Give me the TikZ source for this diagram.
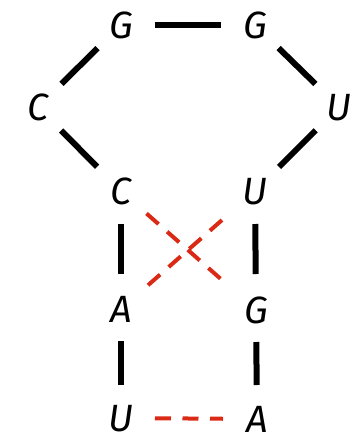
\documentclass[tikz,border=0pt]{standalone}
\usepackage{fontspec}
\setmainfont{Fira Sans}
\definecolor{pairred}{RGB}{218,42,22}
\begin{document}
\begin{tikzpicture}[x=1pt,y=-1pt,
  base/.style={inner sep=0pt,text height=26pt,text depth=0pt,font=\fontsize{38}{38}\selectfont\itshape},
  bond/.style={line width=6pt,black},
  pairing/.style={line width=4pt,pairred,dash pattern=on 16pt off 11.5pt}]
\useasboundingbox (0,0) rectangle (356,437);
\node[base] (g1) at (121,25) {G};
\node[base] (g2) at (255,25) {G};
\node[base] (c1) at (38,107) {C};
\node[base] (u1) at (339,107) {U};
\node[base] (c2) at (121,191) {C};
\node[base] (u2) at (255,191) {U};
\node[base] (a1) at (121,309) {A};
\node[base] (g3) at (256,310) {G};
\node[base] (u3) at (121,418) {U};
\node[base] (a2) at (257,419) {A};
\draw[bond,shorten <=34pt,shorten >=34pt] (g1.center) -- (g2.center);
\draw[bond,shorten <=33pt,shorten >=33pt] (g1.center) -- (c1.center);
\draw[bond,shorten <=33pt,shorten >=33pt] (g2.center) -- (u1.center);
\draw[bond,shorten <=33pt,shorten >=34pt] (c1.center) -- (c2.center);
\draw[bond,shorten <=33pt,shorten >=34pt] (u1.center) -- (u2.center);
\draw[bond,shorten <=33pt,shorten >=35pt] (c2.center) -- (a1.center);
\draw[bond,shorten <=33pt,shorten >=36pt] (u2.center) -- (g3.center);
\draw[bond,shorten <=32pt,shorten >=33pt] (a1.center) -- (u3.center);
\draw[bond,shorten <=32pt,shorten >=34pt] (g3.center) -- (a2.center);
\draw[pairing,shorten <=34pt,shorten >=44pt] (c2.center) -- (g3.center);
\draw[pairing,shorten <=44pt,shorten >=35pt] (u2.center) -- (a1.center);
\draw[pairing,shorten <=34pt,shorten >=34pt] (u3.center) -- (a2.center);
\end{tikzpicture}
\end{document}
